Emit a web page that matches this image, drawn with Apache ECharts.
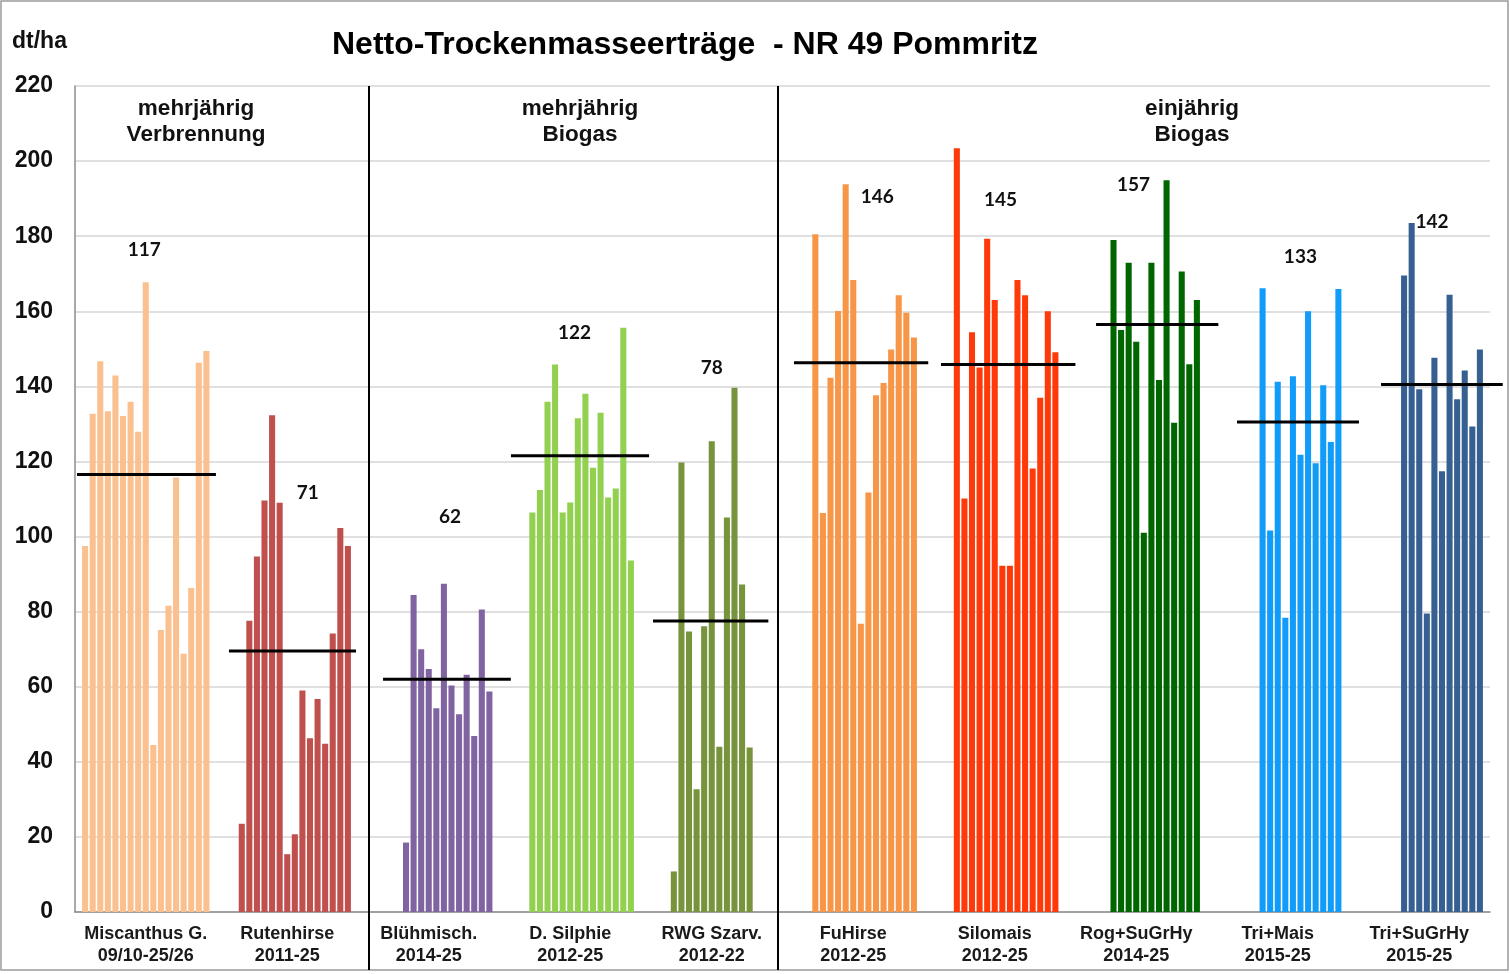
<!DOCTYPE html>
<html>
<head>
<meta charset="utf-8">
<script src="https://cdn.jsdelivr.net/npm/echarts@6/dist/echarts.min.js"></script>
<style>
html,body{margin:0;padding:0;background:#fff;}
#chart{width:1510px;height:974px;}
</style>
</head>
<body>
<div id="chart"></div>
<script>
// ---- data ----
const crops = ['Miscanthus G.\n09/10-25/26','Rutenhirse\n2011-25','Blühmisch.\n2014-25','D. Silphie\n2012-25','RWG Szarv.\n2012-22','FuHirse\n2012-25','Silomais\n2012-25','Rog+SuGrHy\n2014-25','Tri+Mais\n2015-25','Tri+SuGrHy\n2015-25'];
const years = ['2009','2010','2011','2012','2013','2014','2015','2016','2017','2018','2019','2020','2021','2022','2023','2024','2025'];
const miscanthus = [97.5,132.7,146.7,133.4,142.9,132.1,135.9,127.9,167.7,44.5,75.1,81.6,115.7,68.8,86.3,146.3,149.4];
const rutenhirse = [null,null,23.5,77.6,94.7,109.6,132.3,109.0,15.4,20.7,59.0,46.3,56.7,44.8,74.2,102.3,97.5];
const bluehmisch = [null,null,null,null,null,18.5,84.4,70.0,64.7,54.3,87.4,60.3,52.7,63.2,46.9,80.6,58.7];
const silphie = [null,null,null,106.4,112.4,135.9,145.8,106.4,109.1,131.5,138.0,118.3,133.0,110.4,112.8,155.6,93.6];
const rwgSzarv = [null,null,null,10.8,119.7,74.7,32.7,76.1,125.4,44.0,105.1,139.6,87.2,43.8,null,null,null];
const fuhirse = [null,null,null,180.5,106.3,142.3,160.1,193.8,168.3,76.8,111.7,137.6,140.9,149.8,164.3,159.6,153.0];
const silomais = [null,null,null,203.4,110.1,154.4,145.0,179.3,163.0,92.2,92.2,168.3,164.3,118.1,137.0,160.0,149.1];
const rogSuGrHy = [null,null,null,null,null,179.0,155.0,172.9,151.9,101.0,172.9,141.7,194.9,130.3,170.6,145.9,163.0];
const triMais = [null,null,null,null,null,null,166.1,101.6,141.2,78.4,142.7,121.8,160.0,119.5,140.3,125.2,165.9];
const triSuGrHy = [null,null,null,null,null,null,169.5,183.5,139.2,79.5,147.6,117.4,164.4,136.6,144.2,129.3,149.8];
const meanLine = [116.5,69.5,62,121.5,77.5,146.3,145.8,156.5,130.5,140.5];
const meanLabel = ['117','71','62','122','78','146','145','157','133','142'];
const yTicks = {min:0,max:220,interval:20};

// ---- layout / style ----
const cropSeries = [miscanthus,rutenhirse,bluehmisch,silphie,rwgSzarv,fuhirse,silomais,rogSuGrHy,triMais,triSuGrHy];
const cropColors = ['#FAC08F','#C0504D','#8064A2','#92D050','#77933C','#F79646','#FF3A0A','#006600','#119CFA','#376092'];
const lineFrom = [0.014,0.088,0.177,0.081,0.085,0.081,0.12,0.216,0.212,0.23];
const lineTo   = [0.996,0.986,1.08,1.057,0.90,1.03,1.07,1.08,1.074,1.09];
const labelX = [0.49,0.645,0.65,0.53,0.50,0.67,0.54,0.48,0.66,0.59];
const labelY = [176.3,111.6,105.2,154.2,144.9,190.4,189.6,193.6,174.4,183.8];
const FONT = '"Liberation Sans", Arial, sans-serif';

const chart = echarts.init(document.getElementById('chart'), null, {renderer:'canvas'});

const barSeries = years.map((y, yi) => ({
  name: y,
  type: 'bar',
  data: cropSeries.map(arr => arr[yi]),
  barGap: '25%',
  barCategoryGap: '10%',
  itemStyle: { color: p => cropColors[p.dataIndex] },
  emphasis: { disabled: true },
  animation: false
}));

const meanSeries = {
  type: 'custom',
  data: meanLine.map((v, i) => [i, v]),
  encode: { x: 0, y: 1 },
  silent: true,
  animation: false,
  z: 10,
  renderItem: function (params, api) {
    const i = api.value(0);
    const c = api.coord([i, api.value(1)]);
    const bw = api.size([1, 0])[0];
    const left = c[0] - bw / 2;
    const lp = api.coord([i, labelY[i]]);
    return {
      type: 'group',
      children: [
        { type: 'line', shape: { x1: left + lineFrom[i] * bw, y1: c[1], x2: left + lineTo[i] * bw, y2: c[1] },
          style: { stroke: '#000', lineWidth: 3 } },
        { type: 'text', x: left + labelX[i] * bw, y: lp[1],
          style: { text: meanLabel[i], fill: '#111', font: 'bold 19px Lato, "Open Sans", sans-serif', textAlign: 'center', textVerticalAlign: 'middle' } }
      ]
    };
  }
};

const option = {
  backgroundColor: '#fff',
  animation: false,
  grid: { left: 75, right: 20, top: 86, bottom: 62, containLabel: false },
  xAxis: {
    type: 'category',
    data: crops,
    axisLine: { show: true, lineStyle: { color: '#8c8c8c', width: 1.5 } },
    axisTick: { show: false },
    axisLabel: { color: '#1a1a1a', fontFamily: FONT, fontWeight: 'bold', fontSize: 18, lineHeight: 22, margin: 11, interval: 0 }
  },
  yAxis: {
    type: 'value',
    min: yTicks.min, max: yTicks.max, interval: yTicks.interval,
    axisLine: { show: true, lineStyle: { color: '#8c8c8c', width: 1.5 } },
    axisTick: { show: false },
    splitLine: { lineStyle: { color: '#D6D6D6', width: 1.5 } },
    axisLabel: { color: '#111', fontFamily: FONT, fontWeight: 'bold', fontSize: 23, margin: 22 }
  },
  series: barSeries.concat([meanSeries]),
  graphic: [
    { type: 'rect', shape: { x: 1, y: 1, width: 1507, height: 969 }, style: { fill: 'none', stroke: '#9a9a9a', lineWidth: 1.5 }, silent: true, z: 100 },
    { type: 'text', x: 685, y: 45, style: { text: 'Netto-Trockenmasseerträge  - NR 49 Pommritz', font: 'bold 32px ' + FONT, fill: '#000', textAlign: 'center', textVerticalAlign: 'middle' }, z: 100 },
    { type: 'text', x: 12, y: 42, style: { text: 'dt/ha', font: 'bold 23px ' + FONT, fill: '#111', textAlign: 'left', textVerticalAlign: 'middle' }, z: 100 },
    { type: 'line', shape: { x1: 369, y1: 86, x2: 369, y2: 970 }, style: { stroke: '#000', lineWidth: 2 }, z: 100 },
    { type: 'line', shape: { x1: 778, y1: 86, x2: 778, y2: 970 }, style: { stroke: '#000', lineWidth: 2 }, z: 100 },
    { type: 'text', x: 196, y: 96, style: { text: 'mehrjährig\nVerbrennung', font: 'bold 22.5px ' + FONT, lineHeight: 26, fill: '#111', textAlign: 'center', textVerticalAlign: 'top' }, z: 100 },
    { type: 'text', x: 580, y: 96, style: { text: 'mehrjährig\nBiogas', font: 'bold 22.5px ' + FONT, lineHeight: 26, fill: '#111', textAlign: 'center', textVerticalAlign: 'top' }, z: 100 },
    { type: 'text', x: 1192, y: 96, style: { text: 'einjährig\nBiogas', font: 'bold 22.5px ' + FONT, lineHeight: 26, fill: '#111', textAlign: 'center', textVerticalAlign: 'top' }, z: 100 }
  ]
};
chart.setOption(option);
</script>
</body>
</html>
